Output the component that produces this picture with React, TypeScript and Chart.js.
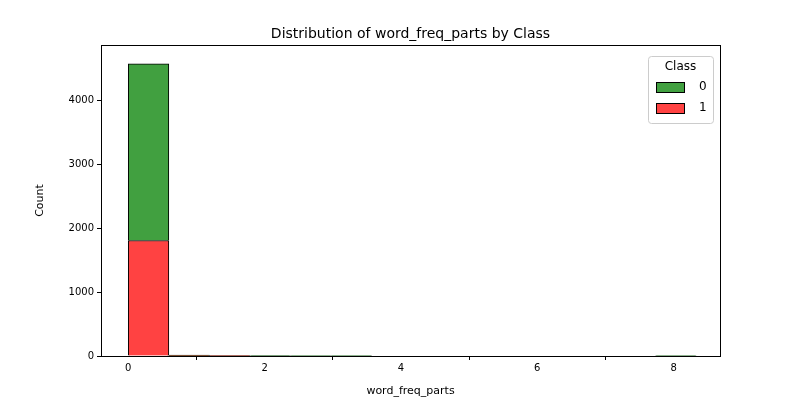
import { useEffect, useRef } from 'react'
import { Chart, registerables } from 'chart.js'

Chart.register(...registerables)

const binWidth = 8.33 / 14
const binCenters = Array.from({ length: 14 }, (_, i) => (i + 0.5) * binWidth)
const class0 = [2760, 12, 3, 2, 1, 1, 0, 0, 0, 0, 0, 0, 0, 1]
const class1 = [1805, 4, 1, 0, 0, 0, 0, 0, 0, 0, 0, 0, 0, 0]
const xTicks = [0, 2, 4, 6, 8]
const yTicks = [0, 1000, 2000, 3000, 4000]

const framePlugin = {
  id: 'frame',
  afterDraw(chart: any) {
    const { ctx, chartArea: a } = chart
    ctx.save()
    ctx.strokeStyle = '#000'
    ctx.lineWidth = 1
    ctx.strokeRect(a.left + 0.5, a.top + 0.5, a.right - a.left, a.bottom - a.top)
    ctx.fillStyle = '#000'
    ctx.font = '14px "DejaVu Sans"'
    ctx.textAlign = 'center'
    ctx.textBaseline = 'middle'
    ctx.fillText('Distribution of word_freq_parts by Class', (a.left + a.right) / 2, 34)
    // legend
    const lx = 648, ly = 56, lw = 65, lh = 67
    ctx.fillStyle = 'rgba(255,255,255,0.8)'
    ctx.strokeStyle = '#ccc'
    ctx.beginPath()
    ctx.roundRect(lx + 0.5, ly + 0.5, lw, lh, 3)
    ctx.fill()
    ctx.stroke()
    ctx.fillStyle = '#000'
    ctx.font = '12px "DejaVu Sans"'
    ctx.fillText('Class', lx + lw / 2, ly + 11)
    const items: [string, string][] = [['0', '#41a040'], ['1', '#ff4242']]
    items.forEach(([t, c], i) => {
      const y = ly + 26 + i * 21
      ctx.fillStyle = c
      ctx.fillRect(lx + 8, y, 28, 10)
      ctx.strokeStyle = '#000'
      ctx.strokeRect(lx + 8.5, y + 0.5, 28, 10)
      ctx.fillStyle = '#000'
      ctx.textAlign = 'left'
      ctx.fillText(t, lx + 51, y + 5)
    })
    ctx.restore()
  },
}

const tickFont = { family: 'DejaVu Sans', size: 10 }
const titleFont = { family: 'DejaVu Sans', size: 11 }

const App = () => {
  const chartRef = useRef<HTMLCanvasElement>(null)

  useEffect(() => {
    document.body.style.margin = '0'
    if (!chartRef.current) return
    const myChart = new Chart(chartRef.current, {
      type: 'bar',
      data: {
        datasets: [
          {
            label: '1',
            data: binCenters.map((x, i) => ({ x, y: class1[i] })),
            backgroundColor: '#ff4242',
            borderColor: '#000',
            borderWidth: 1,
            barPercentage: 1,
            categoryPercentage: 1,
          },
          {
            label: '0',
            data: binCenters.map((x, i) => ({ x, y: class0[i] })),
            backgroundColor: '#41a040',
            borderColor: '#000',
            borderWidth: 1,
            barPercentage: 1,
            categoryPercentage: 1,
          },
        ],
      },
      options: {
        responsive: false,
        animation: false,
        layout: { padding: { top: 45, right: 80, left: 34 } },
        plugins: { legend: { display: false }, tooltip: { enabled: false } },
        scales: {
          x: {
            type: 'linear',
            stacked: true,
            offset: false,
            min: -0.4,
            max: 8.68,
            grid: { display: true, drawOnChartArea: false, tickLength: 4, color: '#000' },
            border: { display: false },
            afterBuildTicks: (s: any) => { s.ticks = xTicks.map((v) => ({ value: v })) },
            afterFit: (s: any) => { s.height = 44 },
            ticks: { color: '#000', font: tickFont, padding: 2, callback: (v: any) => String(v) },
            title: { display: true, text: 'word_freq_parts', color: '#000', font: titleFont, padding: 2 },
          },
          y: {
            stacked: true,
            min: 0,
            max: 4860,
            grid: { display: true, drawOnChartArea: false, tickLength: 4, color: '#000' },
            border: { display: false },
            afterBuildTicks: (s: any) => { s.ticks = yTicks.map((v) => ({ value: v })) },
            afterFit: (s: any) => { s.width = 67 },
            ticks: { color: '#000', font: tickFont, padding: 3, callback: (v: any) => String(v) },
            title: { display: true, text: 'Count', color: '#000', font: titleFont, padding: 0 },
          },
        },
      },
      plugins: [framePlugin],
    })
    return () => myChart.destroy()
  }, [])

  return <canvas ref={chartRef} width={800} height={400} />
}

export default App
